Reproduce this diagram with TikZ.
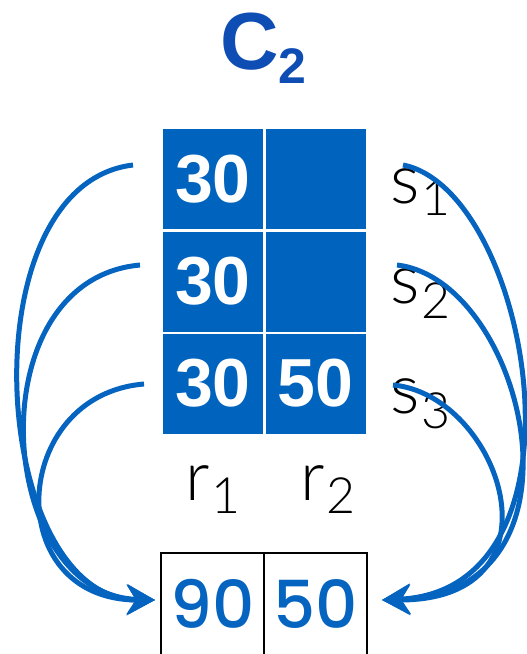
\documentclass[tikz,border=0pt]{standalone}
\usepackage{fontspec}
\setmainfont{Liberation Sans}
\newfontfamily\lightfont{Lato Light}
\newfontfamily\roundfont{Poppins Medium}
\usetikzlibrary{arrows.meta}
\definecolor{titleblue}{RGB}{14,78,180}
\definecolor{cellblue}{RGB}{0,99,190}
\definecolor{arrowblue}{RGB}{5,100,192}
\newcommand{\subdigit}[2]{\raisebox{-#1pt}{\fontsize{50}{50}\selectfont #2}}
\begin{document}
\begin{tikzpicture}[x=1pt,y=-1pt,
 cellbox/.style={fill=cellblue, minimum width=100pt, minimum height=100pt, inner sep=0pt, outer sep=0pt, text=white, font=\fontsize{68}{68}\selectfont\bfseries},
 sumbox/.style={draw=black, line width=2pt, minimum width=103pt, minimum height=102pt, inner sep=0pt, text=arrowblue, font=\roundfont\fontsize{66}{66}\selectfont},
 lbl/.style={anchor=base west, inner sep=0pt, font=\lightfont\fontsize{69}{69}\selectfont},
 flow/.style={draw=arrowblue, line width=5pt, -{Stealth[length=28pt,width=30pt,inset=9pt]}}
]
\useasboundingbox (0,0) rectangle (527,654);
% title
\node[anchor=base west, inner sep=0pt, text=titleblue, font=\fontsize{81}{81}\selectfont\bfseries] (title) at (220,69) {C\raisebox{-14pt}{\fontsize{50}{50}\selectfont 2}};
% grid
\node[cellbox] (c11) at (213,179) {30};
\node[cellbox] (c12) at (315.5,179) {};
\node[cellbox] (c21) at (213,281.5) {30};
\node[cellbox] (c22) at (315.5,281.5) {};
\node[cellbox] (c31) at (213,383.5) {30};
\node[cellbox] (c32) at (315.5,383.5) {50};
% labels
\node[lbl] (s1) at (390,203) {s\hspace{2pt}\subdigit{12}{1}};
\node[lbl] (s2) at (390,303) {s\hspace{2pt}\subdigit{15}{2}};
\node[lbl] (s3) at (390,413) {s\hspace{2pt}\subdigit{15}{3}};
\node[lbl] (r1) at (185,500) {r\hspace{2pt}\subdigit{13}{1}};
\node[lbl] (r2) at (300,500) {r\hspace{2pt}\subdigit{13}{2}};
% result
\node[sumbox] (sa) at (212.5,604) {90};
\node[sumbox] (sb) at (315.5,604) {50};
% connector ends
\coordinate (a1) at (133,165);
\coordinate (a2) at (140,265);
\coordinate (a3) at (144,384);
\coordinate (b1) at (403,165);
\coordinate (b2) at (397,265);
\coordinate (b3) at (393,385);
\coordinate (ltip) at (155,600);
\coordinate (rtip) at (382,600);
% arrows
\draw[flow] (a1) .. controls (-35,185) and (-10,600) .. (ltip);
\draw[flow] (a2) .. controls (-25,280) and (-5,595) .. (ltip);
\draw[flow] (a3) .. controls (10,395) and (0,600) .. (ltip);
\draw[flow] (b1) .. controls (530,190) and (600,590) .. (rtip);
\draw[flow] (b2) .. controls (525,280) and (600,595) .. (rtip);
\draw[flow] (b3) .. controls (500,395) and (570,600) .. (rtip);
\end{tikzpicture}
\end{document}
